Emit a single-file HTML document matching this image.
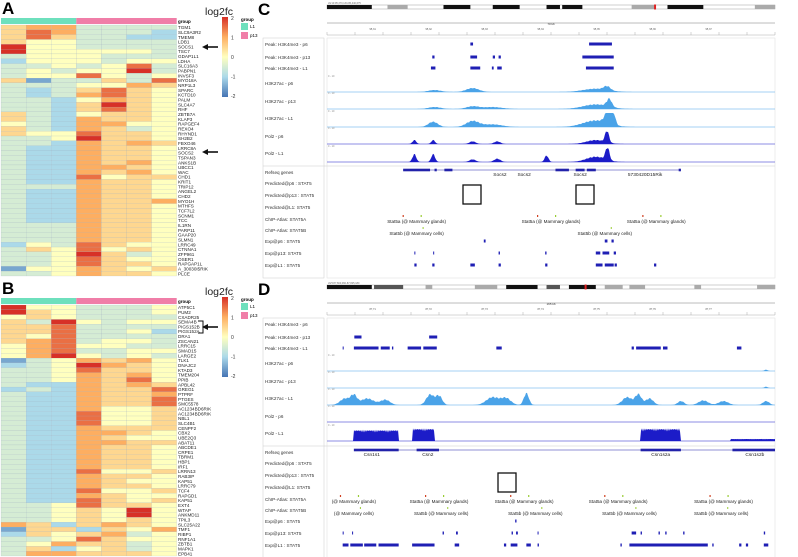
<!DOCTYPE html>
<html><head><meta charset="utf-8">
<style>
html,body{margin:0;padding:0;background:#fff;}
svg{display:block;font-family:"Liberation Sans",sans-serif;}
</style></head>
<body>
<svg id="fig" width="798" height="557" viewBox="0 0 798 557" xmlns="http://www.w3.org/2000/svg"></svg>
<script>
// ---------- heatmap data (a=-2 ... e=0 ... i=2, step 0.5) ----------
const heatA = ["fggdddd","fhgdddc","fhfddcc","feedddd","ieedddd","ieeeeed","deeeddd","ceeedee","ddedehd","dedeeid","deehede","fbddfdh","dddeegf","dcdfhfe","dcdghfe","ddcegfe","ddcfife","ddcfhfe","fdceffe","fdcgffe","edcggee","fdcgfde","feehffe","ddeiffe","ddcgfgf","dccgffe","dccgffe","dccgffe","dccgfge","dccggfe","dccgfge","dccheff","dccgffe","dddgffe","dccgffe","dccgffe","dccgffg","dccgffe","dccgffe","dccgffe","dccgffe","dddgffe","dddgffe","dddgffe","dddgffe","cedhfee","dfehefe","ddeifde","ddehfee","ddehffe","beegfef","ddegffe"];
const labelsA = ["TGM1","SLC9A3R2","TMEM8","LDB1","SOCS1","TSC7","GDAP1L1","LDHA","SLC16A3","PABPN1","INVSF3","MYO18A","NRP1L3","SPARC","KCTD10","PALM","SLC4A7","RHF","ZBTB7A","KLAP3","RAPGEF4","REXO4","RHYND1","SH2B2","FBXO46","LRRC8A","SOCS2","TSPAN3","ANKS1B","UBCC1","WAC","CHD1","KRIT1","TRIP12","ANGEL2","CHD2","MYO1H","MTHFS","TCF7L2","SCNM1","TCC","IL1RN","PARP11","GAAP20","SLMN1","LRRC49","CTNNA1","ZFP961","OSER1","RAPGAP1L","A_30030I5RIK","PLCE"];
const heatB = ["ieeddde","ifeddde","efedddd","fdiedee","ffhdddd","ffhddec","fehdddd","fghdeed","egheedd","eghddee","egieded","bdegfge","cdeigfe","ddehffe","ddegfge","ddegfhe","dccgfgf","cdcgffh","dccgffg","dccgffh","dccgffh","dccgeef","dccheef","dccheef","dccheef","dccgfff","dccggfe","dccgfee","dccggff","dccgffe","dccgffe","dccgffe","dccgffe","dccgffe","dccheef","dccgffe","dccgfee","dccgffe","dccheef","dccgfee","dcchfef","ddehffe","ddefeie","ddefeie","ddefefe","gfcfgfe","bffcfeg","cfefgde","ddehfee","degffde","dfcefde","dggfffe"];
const labelsB = ["ATP5C1","PUM2","CXADR25","SEMA4B","PIGS152B","PIGS152A","DRA1","ZSCAN21","LRRC15","SMAD15","LARGE2","TLK1","DNAJC2","KTAD3","TMEM204","PPIB","APBL42","GREG1","PTPRF","PTGES","SMC5578","AC1234BD6RIK","AC1234BD6RIK","NBL1","SLC4B1","CENPF2","CBX2","UBE2Q3","ABAT11","ABCDE1","CRPE1","TBRM1","HBP1","IRF1","LRRN13","RAB3IP","KAP51","LRRC79","TCF4","RAPGD1","KAP51","EXT4","WTAP","ANKMD11","TPIL3","SLC25A22","TMF1","RIBP1","RNF1A1","ZBTB1","MAPK1","EPB41"];
// genome tracks (fractions of track width)
const cPeaks = [[[0.32,0.326],[0.585,0.636]],[[0.235,0.24],[0.32,0.335],[0.37,0.375],[0.383,0.388],[0.57,0.64]],[[0.232,0.242],[0.32,0.342],[0.368,0.372],[0.38,0.39],[0.578,0.64]]];
const cK27 = [[[0.24,0.02,0.15],[0.325,0.02,0.3],[0.6,0.04,0.25],[0.625,0.01,0.3]],[[0.24,0.02,0.15],[0.325,0.02,0.2],[0.37,0.03,0.15],[0.6,0.04,0.35],[0.63,0.008,0.6]],[[0.237,0.015,0.4],[0.325,0.02,0.45],[0.37,0.03,0.2],[0.6,0.04,0.5],[0.628,0.01,1.0],[0.64,0.006,0.7]]];
const cPol = [[[0.195,0.006,0.3],[0.237,0.006,0.3],[0.325,0.01,0.2],[0.38,0.01,0.2],[0.6,0.03,0.3],[0.625,0.006,0.9]],[[0.195,0.006,0.6],[0.237,0.006,0.6],[0.325,0.01,0.2],[0.38,0.01,0.25],[0.49,0.006,0.5],[0.6,0.03,0.4],[0.626,0.006,1.0]]];
const cGenes = [[0.17,0.23],[0.24,0.245],[0.262,0.28],[0.51,0.54],[0.555,0.575],[0.58,0.6],[0.785,0.79]];
const cGeneLine = [0.17,0.79];
const cGeneLabels = [["Socs2",0.386],["Socs2",0.44],["Socs2",0.565],["5730420D15Rik",0.71]];
const cChipA = [["Stat5a (@ Mammary glands)",0.2],["Stat5a (@ Mammary glands)",0.5],["Stat5a (@ Mammary glands)",0.735]];
const cChipB = [["Stat5b (@ Mammary cells)",0.2],["Stat5b (@ Mammary cells)",0.62]];
const cExp = [[[0.35,0.354],[0.62,0.626],[0.635,0.64]],[[0.195,0.197],[0.237,0.239],[0.383,0.386],[0.487,0.49],[0.6,0.61],[0.615,0.63],[0.64,0.645]],[[0.195,0.2],[0.235,0.24],[0.32,0.33],[0.383,0.388],[0.487,0.492],[0.6,0.615],[0.62,0.64],[0.642,0.647],[0.73,0.735]]];
const dPeaks = [[],[[0.061,0.077],[0.228,0.246]],[[0.035,0.037],[0.06,0.115],[0.12,0.14],[0.145,0.148],[0.18,0.21],[0.215,0.245],[0.378,0.39],[0.68,0.685],[0.69,0.745],[0.75,0.76],[0.915,0.925]]];
const dK27 = [[[0.98,0.005,0.1]],[[0.98,0.005,0.1]],[[0.04,0.015,0.5],[0.06,0.01,0.7],[0.09,0.02,0.5],[0.13,0.015,0.4],[0.23,0.012,0.8],[0.25,0.01,0.7],[0.37,0.02,0.6],[0.4,0.015,0.5],[0.445,0.008,0.9],[0.67,0.015,0.6],[0.695,0.01,0.8],[0.72,0.012,0.5],[0.79,0.01,0.3],[0.84,0.015,0.35],[0.885,0.015,0.3],[0.98,0.01,0.3]]];
const dPol = [[],[[0.06,0.16,0.8],[0.19,0.24,0.9],[0.7,0.79,0.9],[0.9,1.0,0.15]]];
const dGenes = [[0.06,0.16],[0.2,0.25],[0.7,0.79],[0.905,1.0]];
const dGeneLabels = [["Csn1s1",0.1],["Csn2",0.225],["Csn1s2a",0.745],["Csn1s2b",0.955]];
const dChipA = [["(@ Mammary glands)",0.06],["Stat5a (@ Mammary glands)",0.25],["Stat5a (@ Mammary glands)",0.44],["Stat5a (@ Mammary glands)",0.65],["Stat5a (@ Mammary glands)",0.885]];
const dChipB = [["(@ Mammary cells)",0.06],["Stat5b (@ Mammary cells)",0.255],["Stat5b (@ Mammary cells)",0.465],["Stat5b (@ Mammary cells)",0.675],["Stat5b (@ Mammary cells)",0.88]];
const dExp = [[[0.42,0.423]],[[0.035,0.037],[0.056,0.058],[0.258,0.261],[0.288,0.292],[0.412,0.415],[0.422,0.426],[0.47,0.472],[0.68,0.69],[0.7,0.703],[0.74,0.743],[0.755,0.758],[0.795,0.798],[0.975,0.978]],[[0.035,0.048],[0.052,0.08],[0.083,0.11],[0.115,0.16],[0.19,0.24],[0.285,0.295],[0.395,0.4],[0.41,0.425],[0.445,0.455],[0.47,0.473],[0.655,0.658],[0.675,0.85],[0.86,0.863],[0.92,0.925],[0.935,0.94],[0.975,0.985]]];
const trackLabels = ["Peak: H3K4me3 - p6","Peak: H3K4me3 - p13","Peak: H3K4me3 - L1","H3K27ac - p6","H3K27ac - p13","H3K27ac - L1","Pol2 - p6","Pol2 - L1","Refseq genes","Predicted@p6 : STAT5","Predicted@p13 : STAT5","Predicted@L1: STAT5","ChIP-Atlas: STAT5A","ChIP-Atlas: STAT5B","Exp@p6 : STAT5","Exp@p13: STAT5","Exp@L1 : STAT5"];

const NS="http://www.w3.org/2000/svg";
const svg=document.getElementById('fig');
function el(tag,attrs,parent,txt){const e=document.createElementNS(NS,tag);for(const k in attrs)e.setAttribute(k,attrs[k]);if(txt!==undefined)e.textContent=txt;(parent||svg).appendChild(e);return e;}
const stops=[[-2,[69,117,180]],[-1,[171,217,233]],[0,[255,255,191]],[1,[253,174,97]],[2,[215,48,39]]];
function col(v){for(let i=0;i<4;i++){const a=stops[i],b=stops[i+1];if(v<=b[0]){const t=(v-a[0])/(b[0]-a[0]);return 'rgb('+a[1].map((c,j)=>Math.round(c+(b[1][j]-c)*t)).join(',')+')';}}return 'rgb(215,48,39)';}

function heatmap(oy,rows,labels,letter,arrows){
  const g=el('g',{});
  
  
  const t=el('text',{x:2,y:oy+14,'font-size':17,'font-weight':'bold'},g,letter);
  
  const x0=1,w=25.1,y0=oy+25,h=(oy+276-y0)/rows.length;
  el('rect',{x:x0,y:oy+18,width:w*3,height:6,fill:'#6ee0bd'},g);
  el('rect',{x:x0+w*3,y:oy+18,width:w*4,height:6,fill:'#f07ea8'},g);
  el('text',{x:178,y:oy+23,'font-size':4.5,'font-weight':'bold'},g,'group');
  rows.forEach((r,i)=>{for(let j=0;j<7;j++){const v=(r.charCodeAt(j)-101)*0.5;
    const c=el('rect',{x:x0+j*w,y:y0+i*h,width:w,height:h,fill:col(v),stroke:'#9ab',"stroke-width":0.15},g);
    }
    el('text',{x:178,y:y0+i*h+h*0.85,'font-size':4.6,fill:'#222'},g,labels[i]||'');});
  // colour bar
  const gr=el('linearGradient',{id:'cb'+letter,x1:0,y1:1,x2:0,y2:0},g);
  stops.forEach(s=>el('stop',{offset:(s[0]+2)/4,'stop-color':col(s[0])},gr));
  const cb=el('rect',{x:222,y:oy+17,width:6,height:80,fill:'url(#cb'+letter+')'},g);
  
  ['2','1','0','-1','-2'].forEach((s,i)=>el('text',{x:231,y:oy+20+i*19.5,'font-size':5,fill:'#333'},g,s));
  el('text',{x:205,y:oy+15,'font-size':10.5,fill:'#222'},g,'log2fc');
  el('text',{x:241,y:oy+21,'font-size':4.5,'font-weight':'bold'},g,'group');
  el('rect',{x:241,y:oy+23,width:7,height:7,fill:'#6ee0bd'},g);
  el('text',{x:250,y:oy+28,'font-size':4.5},g,'L1');
  el('rect',{x:241,y:oy+32,width:7,height:7,fill:'#f07ea8'},g);
  el('text',{x:250,y:oy+37,'font-size':4.5},g,'p13');
  arrows.forEach(ay=>{el('line',{x1:218,y1:ay,x2:205,y2:ay,stroke:'#111','stroke-width':1.6},g);
    el('polygon',{points:`${202},${ay} ${208},${ay-3} ${208},${ay+3}`,fill:'#111'},g);});
  return g;
}
heatmap(0,heatA,labelsA,'A',[47,152]);
const gb=heatmap(280,heatB,labelsB,'B',[327]);
el('path',{d:'M198,321 L203,321 L203,333 L198,333',fill:'none',stroke:'#111','stroke-width':1},gb);

const TX=327,TW=448;
function fx(f){return TX+f*TW;}
function browser(oy,letter,opts){
  const g=el('g',{});
  
  
  el('text',{x:258,y:oy+15,'font-size':17,'font-weight':'bold'},g,letter);
  // ideogram
  el('text',{x:328,y:oy+4,'font-size':2.5,fill:'#666'},g,opts.loc);
  el('rect',{x:327,y:oy+5,width:448,height:4,fill:'#fff',stroke:'#888','stroke-width':0.4},g);
  opts.bands.forEach(b=>el('rect',{x:fx(b[0]),y:oy+5,width:(b[1]-b[0])*TW,height:4,fill:b[2]},g));
  el('rect',{x:fx(opts.cen),y:oy+4.5,width:2,height:5,fill:'#d22'},g);
  // ruler
  el('line',{x1:327,y1:oy+23,x2:775,y2:oy+23,stroke:'#555','stroke-width':0.4},g);
  el('text',{x:fx(0.5),y:oy+25,'font-size':3,'text-anchor':'middle',fill:'#333'},g,opts.span);
  el('line',{x1:327,y1:oy+35,x2:775,y2:oy+35,stroke:'#999','stroke-width':0.4},g);
  for(let i=0;i<=16;i++){el('line',{x1:fx(i/16),y1:oy+32,x2:fx(i/16),y2:oy+35,stroke:'#777','stroke-width':0.3},g);}
  for(let i=1;i<8;i++)el('text',{x:fx(i/8-0.03),y:oy+30,'font-size':2.5,fill:'#555'},g,opts.coord+i);
  // frames
  el('rect',{x:263,y:oy+38,width:61,height:240,fill:'none',stroke:'#ccc','stroke-width':0.5},g);
  el('rect',{x:327,y:oy+38,width:448,height:240,fill:'none',stroke:'#ddd','stroke-width':0.5},g);
  el('line',{x1:263,y1:oy+166,x2:775,y2:oy+166,stroke:'#ccc','stroke-width':0.6},g);
  const ly=[44,57,68,83,101,118,136,153,172,183,195,207,219,230,241,253,265];
  trackLabels.forEach((s,i)=>{const t=el('text',{x:265,y:oy+ly[i]+2,'font-size':4.6,fill:'#333'},g,s);
    });
  // peaks
  opts.peaks.forEach((arr,i)=>arr.forEach(p=>{const r=el('rect',{x:fx(p[0]),y:oy+ly[i]-1.5,width:Math.max(1,(p[1]-p[0])*TW),height:3,fill:'#1f1fb4'},g);
    }));
  // signal helper
  function signal(base,bumps,color,hmax,block){
    el('line',{x1:327,y1:base,x2:775,y2:base,stroke:color,'stroke-width':0.5},g);
    el('text',{x:328,y:base-hmax-1,'font-size':2.5,fill:'#888'},g,'0 - 10');
    let d='M'+TX+','+base;
    for(let k=0;k<=448;k++){const f=k/448;let v=0;
      bumps.forEach(b=>{if(block){if(f>=b[0]&&f<=b[1])v=Math.max(v,b[2]*(0.75+0.25*Math.abs(Math.sin(k*1.7))));}
        else v+=b[2]*Math.exp(-Math.pow((f-b[0])/b[1],2))*(0.8+0.2*Math.abs(Math.sin(k*2.3)));});
      d+=' L'+(TX+k)+','+(base-Math.min(1,v)*hmax);}
    d+=' L775,'+base+' Z';
    const p=el('path',{d:d,fill:color},g);
    
  }
  opts.k27.forEach((b,i)=>signal(oy+opts.kbase[i],b,'#4aa3e8',14,false));
  opts.pol.forEach((b,i)=>signal(oy+opts.pbase[i],b,'#1c1cc8',14,opts.polBlock));
  // genes
  const gy=oy+170;
  el('line',{x1:fx(opts.gline[0]),y1:gy,x2:fx(opts.gline[1]),y2:gy,stroke:'#2222aa','stroke-width':0.5},g);
  opts.genes.forEach(s=>{const r=el('rect',{x:fx(s[0]),y:gy-1.3,width:(s[1]-s[0])*TW,height:2.6,fill:'#2222aa'},g);
    });
  opts.glabels.forEach(l=>el('text',{x:fx(l[1]),y:gy+6,'font-size':4.8,'text-anchor':'middle',fill:'#222'},g,l[0]));
  opts.boxes.forEach(b=>{const r=el('rect',{x:b[0],y:oy+b[1],width:18,height:19,fill:'none',stroke:'#111','stroke-width':1.3},g);
    });
  opts.chipA.forEach(c=>{el('text',{x:fx(c[1]),y:oy+223,'font-size':4.6,'text-anchor':'middle',fill:'#222'},g,c[0]);
    el('rect',{x:fx(c[1])-14,y:oy+215,width:1.2,height:2,fill:'#d04020'},g);el('rect',{x:fx(c[1])+4,y:oy+215,width:1.2,height:2,fill:'#9c3'},g);});
  opts.chipB.forEach(c=>{el('text',{x:fx(c[1]),y:oy+235,'font-size':4.6,'text-anchor':'middle',fill:'#222'},g,c[0]);
    el('rect',{x:fx(c[1])+6,y:oy+227,width:1,height:2,fill:'#9c3'},g);});
  opts.exp.forEach((arr,i)=>arr.forEach(p=>{const r=el('rect',{x:fx(p[0]),y:oy+[241,253,265][i]-1.5,width:Math.max(1,(p[1]-p[0])*TW),height:3,fill:'#1f1fb4'},g);
    }));
}
browser(0,'C',{loc:'chr10:95,370,130-95,440,675',span:'70 kb',coord:'95,3',cen:0.73,
  bands:[[0,0.1,'#111'],[0.135,0.18,'#aaa'],[0.26,0.32,'#111'],[0.37,0.43,'#111'],[0.49,0.52,'#111'],[0.525,0.57,'#111'],[0.68,0.73,'#aaa'],[0.76,0.84,'#111'],[0.955,1,'#aaa']],
  peaks:cPeaks,k27:cK27,kbase:[92,109,127],pol:cPol,pbase:[144,162],polBlock:false,
  genes:cGenes,gline:cGeneLine,glabels:cGeneLabels,boxes:[[463,185],[576,185]],chipA:cChipA,chipB:cChipB,exp:cExp});
browser(280,'D',{loc:'chr5:87,660,060-87,825,180',span:'165 kb',coord:'87,7',cen:0.575,
  bands:[[0,0.1,'#111'],[0.105,0.17,'#555'],[0.22,0.235,'#aaa'],[0.33,0.38,'#aaa'],[0.4,0.47,'#111'],[0.49,0.52,'#555'],[0.54,0.6,'#111'],[0.62,0.66,'#aaa'],[0.675,0.71,'#aaa'],[0.82,0.835,'#aaa'],[0.96,1,'#aaa']],
  peaks:dPeaks,k27:dK27,kbase:[91,108,125],pol:dPol,pbase:[142,161],polBlock:true,
  genes:dGenes,gline:[0.06,1.0],glabels:dGeneLabels,boxes:[[498,193]],chipA:dChipA,chipB:dChipB,exp:dExp});
</script>
</body></html>
